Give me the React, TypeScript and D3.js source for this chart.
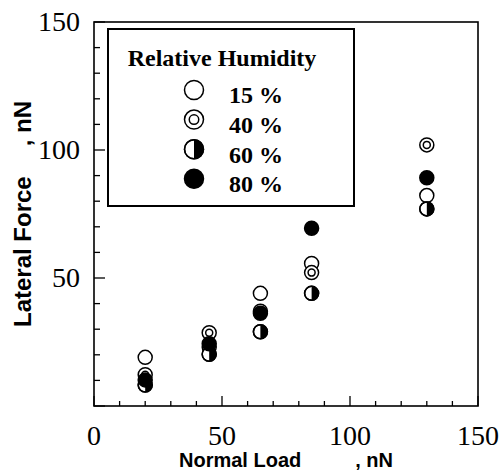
import React from 'react';
import * as d3 from 'd3';

// normal load (nN) for each measurement
const loads = [20, 45, 65, 85, 130];
// lateral force (nN) per relative humidity
const rh15 = [19, 23, 44, 55.7, 82.2];
const rh40 = [12.2, 28.6, 37, 52.1, 102];
const rh60 = [8.2, 20.2, 29, 44, 77];
const rh80 = [10.2, 24.3, 36.2, 69.4, 89.2];

const seriesNames = ['15 %', '40 %', '60 %', '80 %'];
const seriesKinds = ['open', 'ring', 'half', 'filled'];
const seriesValues = [rh15, rh40, rh60, rh80];

const majorTicks = [0, 50, 100, 150];
const minorTicks = d3.range(0, 151, 10).filter(v => v % 50 !== 0);

const width = 502;
const height = 472;
const margin = { top: 22, right: 24, bottom: 66, left: 94 };

const serif = '"Liberation Serif", "Times New Roman", serif';
const sans = '"Liberation Sans", Arial, sans-serif';

const Marker = ({ kind, cx, cy, r }: { kind: string; cx: number; cy: number; r: number }) => {
    const sw = 1.5;
    if (kind === 'filled') {
        return <circle cx={cx} cy={cy} r={r} fill="#000" stroke="#000" strokeWidth={sw} />;
    }
    if (kind === 'ring') {
        return (
            <g>
                <circle cx={cx} cy={cy} r={r} fill="#fff" stroke="#000" strokeWidth={sw} />
                <circle cx={cx} cy={cy} r={r * 0.5} fill="#fff" stroke="#000" strokeWidth={sw} />
            </g>
        );
    }
    if (kind === 'half') {
        const arc = d3.arc()({ innerRadius: 0, outerRadius: r, startAngle: 0, endAngle: Math.PI }) as string;
        return (
            <g>
                <circle cx={cx} cy={cy} r={r} fill="#fff" stroke="#000" strokeWidth={sw} />
                <path d={arc} transform={`translate(${cx},${cy})`} fill="#000" />
                <circle cx={cx} cy={cy} r={r} fill="none" stroke="#000" strokeWidth={sw} />
            </g>
        );
    }
    return <circle cx={cx} cy={cy} r={r} fill="#fff" stroke="#000" strokeWidth={sw} />;
};

export default function App() {
    const x = d3.scaleLinear().domain([0, 150]).range([margin.left, width - margin.right]);
    const y = d3.scaleLinear().domain([0, 150]).range([height - margin.bottom, margin.top]);

    const x0 = x(0), x1 = x(150), y0 = y(0), y1 = y(150);
    const midX = (x0 + x1) / 2;
    const midY = (y0 + y1) / 2;

    // legend box
    const lg = { left: 108, top: 29, right: 354, bottom: 206 };

    return (
        <svg width={width} height={height} style={{ position: 'absolute', left: 0, top: 0, background: '#fff' }}>
            {/* frame */}
            <rect x={x0} y={y1} width={x1 - x0} height={y0 - y1} fill="none" stroke="#000" strokeWidth={1.6} />

            {/* x ticks (inward) */}
            {majorTicks.map(t => (
                <g key={'xm' + t}>
                    <line x1={x(t)} x2={x(t)} y1={y0} y2={y0 - 10} stroke="#000" strokeWidth={1.3} />
                    <text x={x(t)} y={445} textAnchor="middle" fontFamily={serif} fontSize={28}>{t}</text>
                </g>
            ))}
            {minorTicks.map(t => (
                <line key={'xn' + t} x1={x(t)} x2={x(t)} y1={y0} y2={y0 - 5} stroke="#000" strokeWidth={1.3} />
            ))}

            {/* y ticks (inward) */}
            {majorTicks.map(t => (
                <g key={'ym' + t}>
                    <line x1={x0} x2={x0 + 11} y1={y(t)} y2={y(t)} stroke="#000" strokeWidth={1.3} />
                    {t > 0 && (
                        <text x={80} y={y(t) + 9} textAnchor="end" fontFamily={serif} fontSize={28}>{t}</text>
                    )}
                </g>
            ))}
            {minorTicks.map(t => (
                <line key={'yn' + t} x1={x0} x2={x0 + 6} y1={y(t)} y2={y(t)} stroke="#000" strokeWidth={1.3} />
            ))}

            {/* axis titles */}
            <text x={midX} y={467} textAnchor="middle" fontFamily={sans} fontWeight="bold" fontSize={20}>
                <tspan>Normal Load</tspan>
                <tspan dx={54}>, nN</tspan>
            </text>
            <text
                transform={`translate(31,${midY}) rotate(-90)`}
                textAnchor="middle"
                fontFamily={sans}
                fontWeight="bold"
                fontSize={24}
            >
                <tspan>Lateral Force</tspan>
                <tspan dx={30}>, nN</tspan>
            </text>

            {/* data */}
            {seriesValues.map((vals, si) => (
                <g key={seriesNames[si]}>
                    {vals.map((v, i) => (
                        <Marker key={i} kind={seriesKinds[si]} cx={x(loads[i])} cy={y(v)} r={7} />
                    ))}
                </g>
            ))}

            {/* legend */}
            <rect
                x={lg.left}
                y={lg.top}
                width={lg.right - lg.left}
                height={lg.bottom - lg.top}
                fill="#fff"
                stroke="#000"
                strokeWidth={2}
            />
            <text x={(lg.left + lg.right) / 2 - 9} y={66} textAnchor="middle" fontFamily={serif} fontWeight="bold" fontSize={24}>
                Relative Humidity
            </text>
            {seriesNames.map((name, i) => (
                <g key={'lg' + name}>
                    <Marker kind={seriesKinds[i]} cx={194} cy={90 + i * 29.6} r={9.5} />
                    <text x={229} y={103 + i * 29.8} fontFamily={serif} fontWeight="bold" fontSize={24}>{name}</text>
                </g>
            ))}
        </svg>
    );
}
